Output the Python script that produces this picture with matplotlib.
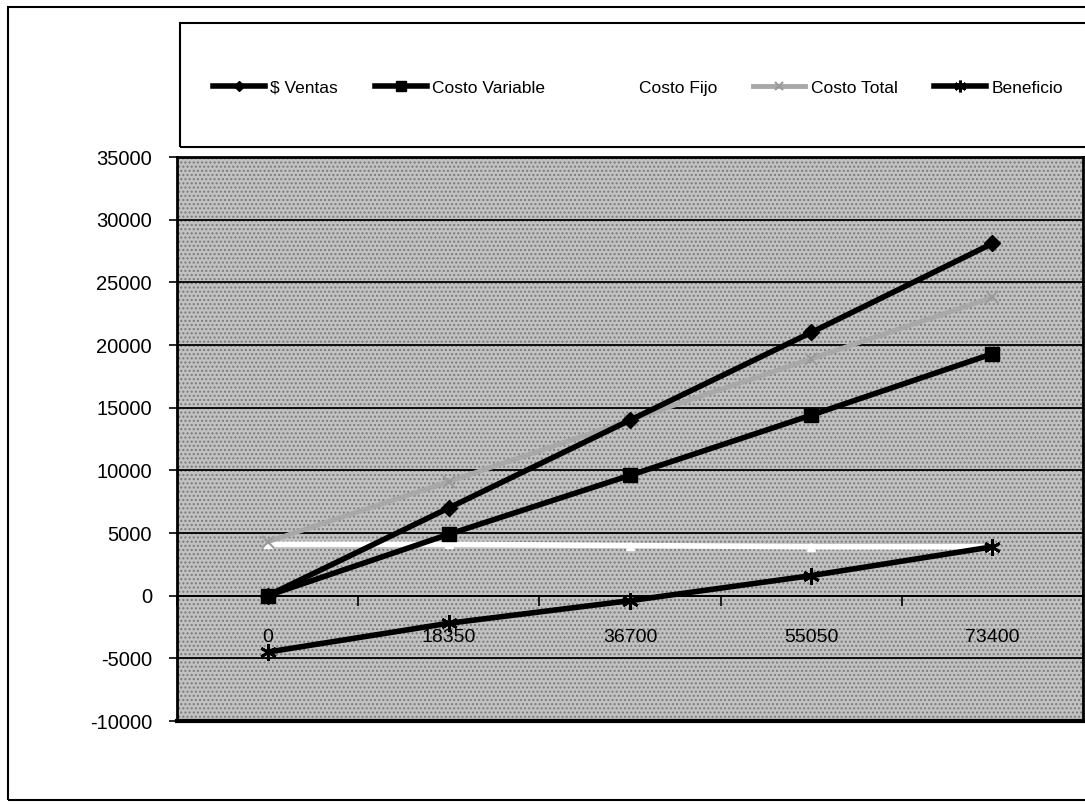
import numpy as np
import matplotlib
matplotlib.use("Agg")
import matplotlib.pyplot as plt
from matplotlib.patches import Rectangle

plt.rcParams['font.family'] = ['Liberation Sans', 'DejaVu Sans']
plt.rcParams['axes.unicode_minus'] = False

# Daten
unidades = ["0", "18350", "36700", "55050", "73400"]
ventas = [0, 7000, 14000, 21000, 28100]
costo_variable = [0, 4900, 9600, 14400, 19300]
costo_fijo = [4100, 4100, 4000, 3900, 3900]
costo_total = [4300, 9100, 14000, 18900, 23800]
beneficio = [-4500, -2200, -400, 1600, 3900]

W, H = 1085, 805
fig = plt.figure(figsize=(W / 100, H / 100), dpi=100)

# Rahmen aussen und Legendenbox
fig.add_artist(Rectangle((8 / W, 1 - 800 / H), 1.2, (800 - 7) / H, transform=fig.transFigure,
                         fill=False, edgecolor='black', linewidth=1.5, clip_on=False))
fig.add_artist(Rectangle((180 / W, 1 - 147 / H), 1.2, (147 - 23) / H, transform=fig.transFigure,
                         fill=False, edgecolor='black', linewidth=1.5, clip_on=False))

ax = fig.add_axes([177 / W, 1 - 721 / H, (1083 - 177) / W, (721 - 157) / H])
x = np.arange(len(unidades))

# grauer gemusterter Hintergrund
ax.patch.set_facecolor('#c2c2c2')
ax.add_patch(Rectangle((0, 0), 1, 1, transform=ax.transAxes, facecolor='none',
                       edgecolor='#7a7a7a', hatch='....', linewidth=0, zorder=0))

for yv in range(-5000, 35001, 5000):
    ax.axhline(yv, color='black', linewidth=1.3, zorder=1)

ax.plot(x, costo_fijo, color='white', linewidth=4, marker='^', markersize=6,
        markerfacecolor='white', markeredgecolor='white', label='Costo Fijo', zorder=2)
ax.plot(x, costo_total, color='#a8a8a8', linewidth=3.5, marker='x', markersize=8,
        markeredgewidth=1.5, markeredgecolor='#9a9a9a', label='Costo Total', zorder=3)
ax.plot(x, ventas, color='black', linewidth=4, marker='D', markersize=8,
        label='$ Ventas', zorder=4)
ax.plot(x, costo_variable, color='black', linewidth=4, marker='s', markersize=10,
        label='Costo Variable', zorder=4)
ax.plot(x, beneficio, color='black', linewidth=4, marker=(6, 2, 0), markersize=12,
        markeredgewidth=2, label='Beneficio', zorder=4)

ax.set_xlim(-0.5, len(unidades) - 0.5)
ax.set_ylim(-10000, 35000)
ax.set_yticks(range(-10000, 35001, 5000))
ax.tick_params(axis='y', direction='out', length=6, width=1.2, pad=12, labelsize=14.5)

ax.spines['bottom'].set_position(('data', 0))
ax.spines['bottom'].set_linewidth(1.3)
for s in ['left', 'top', 'right']:
    ax.spines[s].set_linewidth(2)
ax.axhline(-10000, color='black', linewidth=3, zorder=5, clip_on=False)

ax.set_xticks(x)
ax.set_xticklabels(unidades)
ax.set_xticks(np.arange(-0.5, len(unidades), 1), minor=True)
ax.tick_params(axis='x', which='major', length=0, pad=24, labelsize=14)
ax.tick_params(axis='x', which='minor', direction='out', length=7, width=1.2)

handles, labels = ax.get_legend_handles_labels()
order = [labels.index(n) for n in ['$ Ventas', 'Costo Variable', 'Costo Fijo', 'Costo Total', 'Beneficio']]
fig.legend([handles[i] for i in order], [labels[i].replace('$', r'\$') for i in order],
           loc='center left', bbox_to_anchor=(213 / W, 1 - 88 / H), ncol=5, frameon=False,
           fontsize=12.5, handlelength=3.0, handletextpad=0.3, columnspacing=2.1,
           borderpad=0, borderaxespad=0, markerscale=0.7)

plt.savefig("out.png", dpi=100)
